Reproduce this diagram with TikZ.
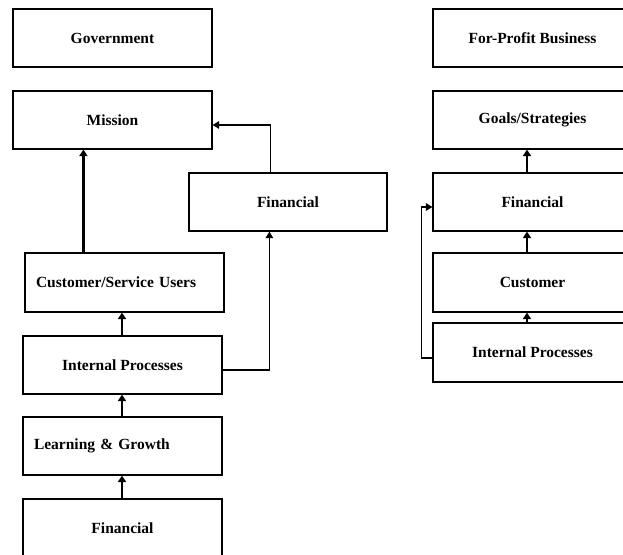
\documentclass[tikz,border=0pt]{standalone}
\usepackage{fontspec}
\setmainfont{Liberation Serif}
\usetikzlibrary{arrows.meta,calc}
\tikzset{
  box/.style={draw, line width=1.2pt, minimum width=199pt, minimum height=58pt, inner sep=0pt,
    font=\fontsize{15.5}{18}\selectfont\bfseries},
  lbox/.style={box, text width=177pt, inner xsep=11pt, align=left},
  thickarr/.style={line width=2.5pt, -{Triangle[length=6.5pt,width=8pt]}},
  thinarr/.style={line width=1.3pt, -{Triangle[length=6.5pt,width=7.5pt]}},
}
\begin{document}
\begin{tikzpicture}[x=1pt,y=-1pt]
\useasboundingbox (0,0) rectangle (623,554);
\fill[white] (0,0) rectangle (623,554);
\clip (0,0) rectangle (623,554);
% left column
\node[box] (gov) at (112.5,38) {Government};
\node[box] (mission) at (112.5,120) {Mission};
\node[box, minimum width=198pt] (finM) at (288,202) {Financial};
\node[lbox, minimum height=59pt] (cust) at (124.5,282.5) {Customer/Service Users};
\node[box] (intL) at (122.5,365) {Internal Processes};
\node[lbox] (learn) at (122.5,446) {Learning \& Growth};
\node[box] (finB) at (122.5,528) {Financial};
% right column
\node[box] (fpb) at (532.5,38) {For-Profit Business};
\node[box] (goals) at (532.5,120) {Goals/Strategies};
\node[box] (finR) at (532.5,202) {Financial};
\node[box, minimum height=59pt] (custR) at (532.5,282.5) {Customer};
\node[box, minimum height=59pt] (intR) at (532.5,352.5) {Internal Processes};
% left connectors
\coordinate (c1) at ($(cust.north west)+(59,0)$);
\draw[thickarr] (c1) -- (c1 |- mission.south);
\coordinate (f1) at ($(finM.north west)+(82,0)$);
\coordinate (m1) at ($(mission.east)+(0,5)$);
\draw[thinarr] (f1) |- (m1);
\coordinate (i1) at ($(intL.east)+(0,5)$);
\coordinate (f2) at ($(finM.south west)+(81,0)$);
\draw[thinarr] (i1) -| (f2);
\coordinate (i2) at ($(intL.north)+(-0.5,0)$);
\draw[thickarr] (i2) -- (i2 |- cust.south);
\coordinate (l2) at ($(learn.north)+(-0.5,0)$);
\draw[thickarr] (l2) -- (l2 |- intL.south);
\coordinate (b2) at ($(finB.north)+(-0.5,0)$);
\draw[thickarr] (b2) -- (b2 |- learn.south);
% right connectors
\coordinate (r1) at ($(finR.north)+(-5.5,0)$);
\draw[thickarr] (r1) -- (r1 |- goals.south);
\coordinate (r2) at ($(custR.north)+(-5.5,0)$);
\draw[thickarr] (r2) -- (r2 |- finR.south);
\coordinate (r3) at ($(intR.north)+(-5.5,0)$);
\draw[thickarr] (r3) -- (r3 |- custR.south);
\coordinate (fb1) at ($(intR.west)+(0,5.5)$);
\coordinate (fb2) at ($(finR.west)+(0,5)$);
\draw[thinarr] (fb1) -- ++(-11,0) |- (fb2);
\end{tikzpicture}
\end{document}
